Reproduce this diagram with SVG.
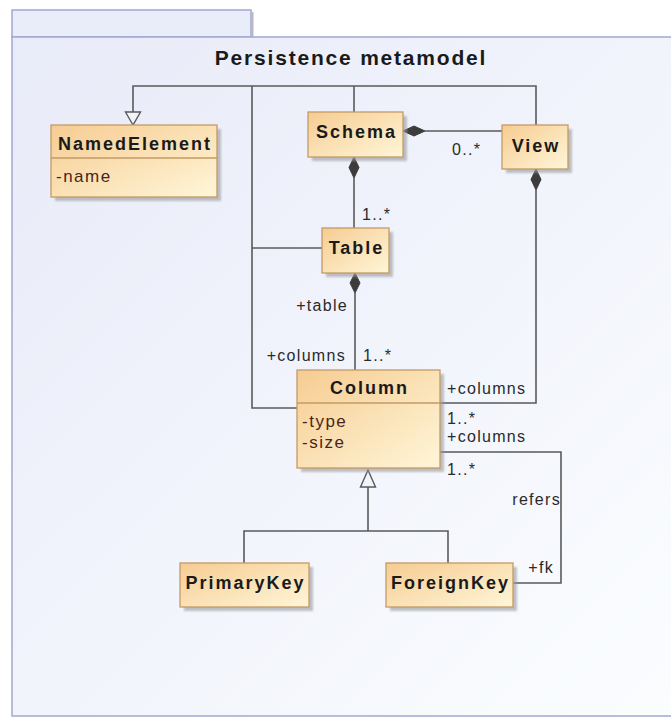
<svg xmlns="http://www.w3.org/2000/svg" width="671" height="718" viewBox="0 0 671 718">
<defs>
<linearGradient id="pkg" x1="0" y1="0" x2="1" y2="1">
<stop offset="0" stop-color="#e8ebf8"/>
<stop offset="1" stop-color="#fbfdff"/>
</linearGradient>
<linearGradient id="cls" x1="0" y1="0" x2="1" y2="1">
<stop offset="0" stop-color="#f6cc92"/>
<stop offset="1" stop-color="#fff6d8"/>
</linearGradient>
<filter id="sh" x="-10%" y="-10%" width="130%" height="140%">
<feGaussianBlur stdDeviation="1.2"/>
</filter>
</defs>
<style>
.frame{fill:url(#pkg);stroke:#a3a8d2;stroke-width:1.5}
.tab{fill:#e9ecf9;stroke:#a3a8d2;stroke-width:1.5}
.box{fill:url(#cls);stroke:#c49a66;stroke-width:1.3}
.shadow{fill:#9a9a9a;opacity:0.6;filter:url(#sh)}
.sep{stroke:#c49a66;stroke-width:1.3}
.name{font-family:"Liberation Sans",Arial,sans-serif;font-weight:bold;font-size:18px;letter-spacing:2px;fill:#1a1a1a;text-anchor:middle}
.attr{font-family:"Liberation Sans",Arial,sans-serif;font-size:17px;letter-spacing:1.5px;fill:#4a2418}
.lbl{font-family:"Liberation Sans",Arial,sans-serif;font-size:16px;letter-spacing:1.3px;fill:#2a2a2a}
.title{font-family:"Liberation Sans",Arial,sans-serif;font-weight:bold;font-size:21px;letter-spacing:1.8px;fill:#1a1a1a;text-anchor:middle}
.ln{fill:none;stroke:#5a5a5a;stroke-width:1.6}
.dia{fill:#3c3c3c;stroke:#3c3c3c;stroke-width:1}
.gen{fill:#f2f4fb;stroke:#5a5a5a;stroke-width:1.4}
</style>
<rect width="671" height="718" fill="#ffffff"/>
<g id="package">
<rect class="tab" x="12" y="10" width="239" height="27"/>
<rect x="251" y="12" width="2.5" height="25" fill="#b8b8c4"/>
<rect class="frame" x="12" y="37" width="680" height="679"/>
<text class="title" x="351" y="65">Persistence metamodel</text>
</g>
<g id="connectors">
<path class="ln" d="M536 125 V86 H133 V112"/>
<path class="ln" d="M354 112 V86"/>
<path class="ln" d="M252 86 V408 H297"/>
<path class="ln" d="M252 248 H322"/>
<polygon class="gen" points="133,125 125.5,112 140.5,112"/>
<path class="ln" d="M425 131 H502"/>
<polygon class="dia" points="403,131 414,126 425,131 414,136"/>
<path class="ln" d="M354 178 V228"/>
<polygon class="dia" points="354,157 359,167.5 354,178 349,167.5"/>
<path class="ln" d="M355 293 V370"/>
<polygon class="dia" points="355,273 360,283 355,293 350,283"/>
<path class="ln" d="M536 190 V403 H440"/>
<polygon class="dia" points="536,169 541,179.5 536,190 531,179.5"/>
<path class="ln" d="M440 452 H561 V583 H513"/>
<path class="ln" d="M368 487 V531"/>
<path class="ln" d="M244 563 V531 H448 V563"/>
<polygon class="gen" points="368,470 360.5,487 375.5,487"/>
<text class="lbl" x="452" y="155">0..*</text>
<text class="lbl" x="362" y="220">1..*</text>
<text class="lbl" x="348" y="311" text-anchor="end">+table</text>
<text class="lbl" x="346" y="361" text-anchor="end">+columns</text>
<text class="lbl" x="363" y="361">1..*</text>
<text class="lbl" x="447" y="394">+columns</text>
<text class="lbl" x="447" y="424">1..*</text>
<text class="lbl" x="447" y="442">+columns</text>
<text class="lbl" x="447" y="475">1..*</text>
<text class="lbl" x="561" y="505" text-anchor="end">refers</text>
<text class="lbl" x="554" y="573" text-anchor="end">+fk</text>
</g>
<g id="NamedElement">
<rect class="shadow" x="55" y="129" width="166" height="72"/>
<rect class="box" x="51" y="125" width="166" height="72"/>
<line class="sep" x1="51" y1="158" x2="217" y2="158"/>
<text class="name" x="135" y="150">NamedElement</text>
<text class="attr" x="56" y="182">-name</text>
</g>
<g id="Schema">
<rect class="shadow" x="312" y="116" width="95" height="45"/>
<rect class="box" x="308" y="112" width="95" height="45"/>
<text class="name" x="356.5" y="138">Schema</text>
</g>
<g id="View">
<rect class="shadow" x="506" y="129" width="66" height="44"/>
<rect class="box" x="502" y="125" width="66" height="44"/>
<text class="name" x="536" y="152">View</text>
</g>
<g id="Table">
<rect class="shadow" x="326" y="232" width="67" height="45"/>
<rect class="box" x="322" y="228" width="67" height="45"/>
<text class="name" x="356.5" y="254">Table</text>
</g>
<g id="Column">
<rect class="shadow" x="301" y="374" width="143" height="98"/>
<rect class="box" x="297" y="370" width="143" height="98"/>
<line class="sep" x1="297" y1="403" x2="440" y2="403"/>
<text class="name" x="369.5" y="394">Column</text>
<text class="attr" x="302" y="427">-type</text>
<text class="attr" x="302" y="448">-size</text>
</g>
<g id="PrimaryKey">
<rect class="shadow" x="184" y="567" width="129" height="44"/>
<rect class="box" x="180" y="563" width="129" height="44"/>
<text class="name" x="245.5" y="589">PrimaryKey</text>
</g>
<g id="ForeignKey">
<rect class="shadow" x="390" y="567" width="127" height="44"/>
<rect class="box" x="386" y="563" width="127" height="44"/>
<text class="name" x="450.5" y="589">ForeignKey</text>
</g>
</svg>
